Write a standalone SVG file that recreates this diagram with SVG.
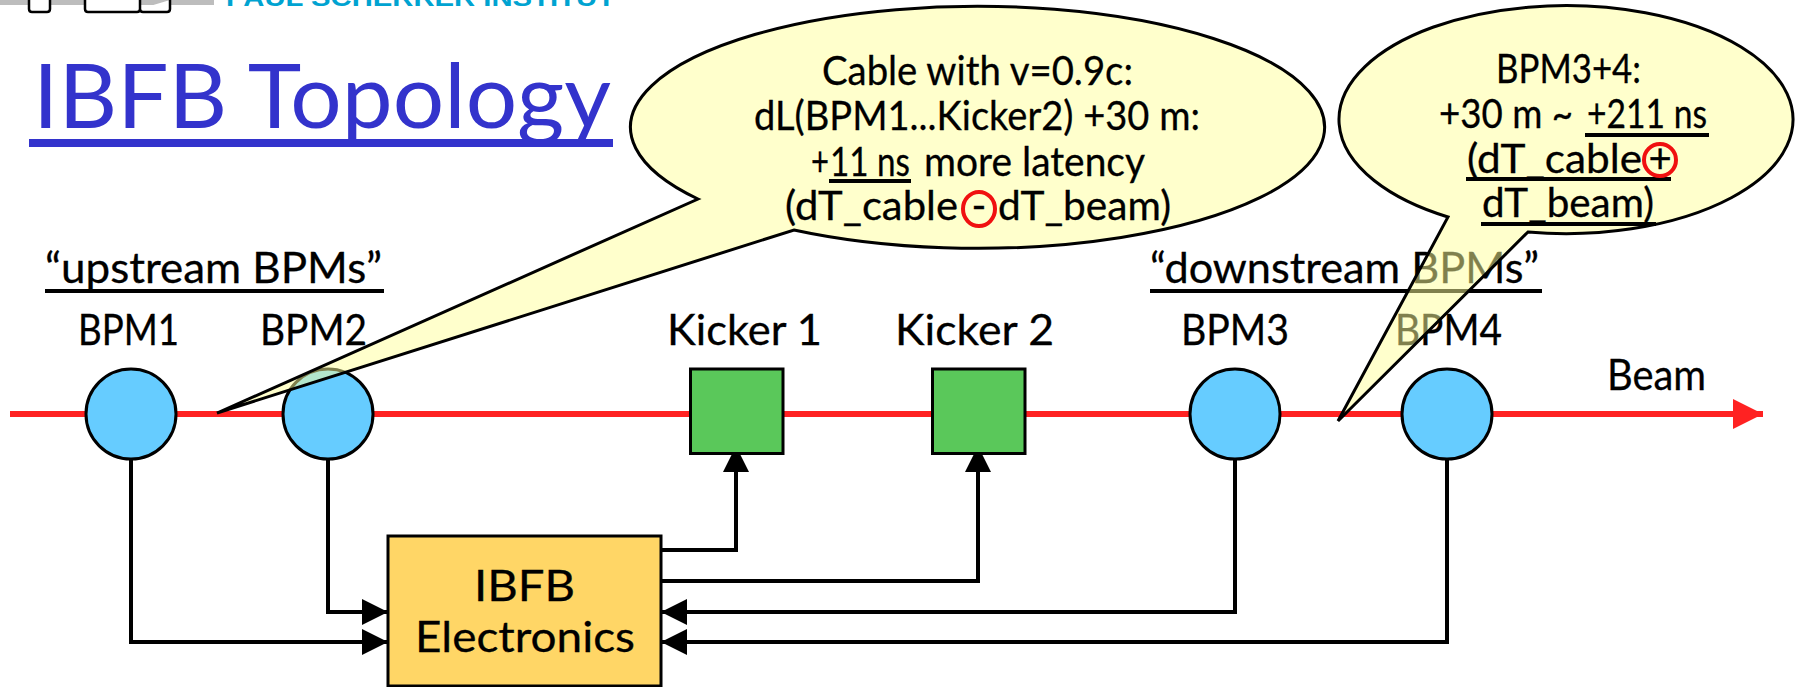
<svg xmlns="http://www.w3.org/2000/svg" width="1801" height="687" viewBox="0 0 1801 687">
<style>
text{font-family:"Lato","Open Sans","Liberation Sans",sans-serif;fill:#000}
.t{font-size:42px;stroke:#000;stroke-width:.3}
.c{font-size:40px;stroke:#000;stroke-width:.3}
.ul{stroke:#000;stroke-width:4;fill:none}
.bpm{fill:#66CCFF;stroke:#000;stroke-width:3}
.kick{fill:#5AC85A;stroke:#000;stroke-width:3}
.wire{fill:none;stroke:#000;stroke-width:4}
.call{fill:#FFFF99;fill-opacity:.5;stroke:#000;stroke-width:3}
.ring{fill:none;stroke:#F01010;stroke-width:4}
</style>
<defs>
<marker id="ah" markerUnits="userSpaceOnUse" markerWidth="27" markerHeight="26" refX="26" refY="13" orient="auto"><path d="M0 0L26 13L0 26Z" fill="#000"/></marker>
<marker id="beamhead" markerUnits="userSpaceOnUse" markerWidth="31" markerHeight="30" refX="30" refY="15" orient="auto"><path d="M0 0L30 15L0 30Z" fill="#FF2222"/></marker>
</defs>
<rect width="1801" height="687" fill="#fff"/>
<g id="logo">
<rect x="0" y="0" width="214" height="5" fill="#BDBDBD"/>
<path d="M29 0V9Q29 12 32 12H47Q50 12 50 9V0M85 0V9Q85 12 88 12H137Q140 12 140 9V0M140 9Q140 12 143 12H167Q170 12 170 9V0" fill="#fff" stroke="#000" stroke-width="2.500"/>
<text x="226" y="6" font-size="24" font-weight="700" textLength="389" lengthAdjust="spacingAndGlyphs" style="font-family:'Liberation Sans',sans-serif;fill:#00A3D1">PAUL SCHERRER INSTITUT</text>
</g>
<g id="title">
<text x="33" y="128" font-size="90" textLength="578" lengthAdjust="spacingAndGlyphs" style="fill:#3333CC">IBFB Topology</text>
<rect x="29" y="139" width="584" height="8" fill="#3333CC"/>
</g>
<g id="labels">
<text class="t" x="45" y="283" textLength="337" lengthAdjust="spacingAndGlyphs">“upstream BPMs”</text>
<line class="ul" x1="45" y1="291" x2="384" y2="291"/>
<text class="t" x="1150" y="283" textLength="389" lengthAdjust="spacingAndGlyphs">“downstream BPMs”</text>
<line class="ul" x1="1150" y1="291" x2="1542" y2="291"/>
<text class="t" x="1607" y="390" textLength="99" lengthAdjust="spacingAndGlyphs">Beam</text>
</g>
<g id="connectors">
<line x1="10" y1="414" x2="1763" y2="414" stroke="#FF2222" stroke-width="6" marker-end="url(#beamhead)"/>
<path class="wire" d="M131 455V642H388" marker-end="url(#ah)"/>
<path class="wire" d="M328 455V612H388" marker-end="url(#ah)"/>
<path class="wire" d="M1235 455V612H661" marker-end="url(#ah)"/>
<path class="wire" d="M1447 455V642H661" marker-end="url(#ah)"/>
<path class="wire" d="M661 550H736V446" marker-end="url(#ah)"/>
<path class="wire" d="M661 581H978V446" marker-end="url(#ah)"/>
</g>
<g id="bpm1"><circle class="bpm" cx="131" cy="414" r="45"/><text class="t" x="78" y="345" textLength="101" lengthAdjust="spacingAndGlyphs">BPM1</text></g>
<g id="bpm2"><circle class="bpm" cx="328" cy="414" r="45"/><text class="t" x="260" y="345" textLength="107" lengthAdjust="spacingAndGlyphs">BPM2</text></g>
<g id="kicker1"><rect class="kick" x="690.5" y="369" width="92.500" height="84.500"/><text class="t" x="667" y="345" textLength="155" lengthAdjust="spacingAndGlyphs">Kicker 1</text></g>
<g id="kicker2"><rect class="kick" x="932.5" y="369" width="92.500" height="84.500"/><text class="t" x="895" y="345" textLength="159" lengthAdjust="spacingAndGlyphs">Kicker 2</text></g>
<g id="bpm3"><circle class="bpm" cx="1235" cy="414" r="45"/><text class="t" x="1181" y="345" textLength="108" lengthAdjust="spacingAndGlyphs">BPM3</text></g>
<g id="bpm4"><circle class="bpm" cx="1447" cy="414" r="45"/><text class="t" x="1395" y="345" textLength="107" lengthAdjust="spacingAndGlyphs">BPM4</text></g>
<g id="ibfb">
<rect x="388" y="536" width="273" height="150" fill="#FFD666" stroke="#000" stroke-width="3"/>
<text class="t" x="474" y="601" textLength="101" lengthAdjust="spacingAndGlyphs">IBFB</text>
<text class="t" x="415" y="652" textLength="220" lengthAdjust="spacingAndGlyphs">Electronics</text>
</g>
<g id="callout1">
<path class="call" d="M794 230A347 121 0 1 0 698 199L217 413Z"/>
<text class="c" x="822" y="85" textLength="311" lengthAdjust="spacingAndGlyphs">Cable with v=0.9c:</text>
<text class="c" x="754" y="130" textLength="446" lengthAdjust="spacingAndGlyphs">dL(BPM1...Kicker2) +30 m:</text>
<text class="c" x="811" y="176" textLength="18" lengthAdjust="spacingAndGlyphs">+</text>
<text class="c" x="830" y="176" textLength="80" lengthAdjust="spacingAndGlyphs">11 ns</text>
<text class="c" x="924" y="176" textLength="221" lengthAdjust="spacingAndGlyphs">more latency</text>
<line class="ul" x1="829" y1="181" x2="911" y2="181"/>
<text class="c" x="785" y="220" textLength="173" lengthAdjust="spacingAndGlyphs">(dT_cable</text>
<text class="c" x="979" y="220" text-anchor="middle">-</text>
<text class="c" x="998" y="220" textLength="173" lengthAdjust="spacingAndGlyphs">dT_beam)</text>
<ellipse class="ring" cx="979" cy="209" rx="16" ry="17"/>
</g>
<g id="callout2">
<path class="call" d="M1528 232A227 114 0 1 0 1448 217L1338 421Z"/>
<text class="c" x="1496" y="83" textLength="145" lengthAdjust="spacingAndGlyphs">BPM3+4:</text>
<text class="c" x="1439" y="128" textLength="134" lengthAdjust="spacingAndGlyphs">+30 m ~</text>
<text class="c" x="1587" y="128" textLength="120" lengthAdjust="spacingAndGlyphs">+211 ns</text>
<line class="ul" x1="1585" y1="135" x2="1709" y2="135"/>
<text class="c" x="1467" y="173" textLength="175" lengthAdjust="spacingAndGlyphs">(dT_cable</text>
<text class="c" x="1660" y="173" text-anchor="middle">+</text>
<line class="ul" x1="1466" y1="179" x2="1671" y2="179"/>
<ellipse class="ring" cx="1660" cy="160" rx="16" ry="16"/>
<text class="c" x="1482" y="217" textLength="172" lengthAdjust="spacingAndGlyphs">dT_beam)</text>
<line class="ul" x1="1481" y1="224" x2="1656" y2="224"/>
</g>
</svg>
